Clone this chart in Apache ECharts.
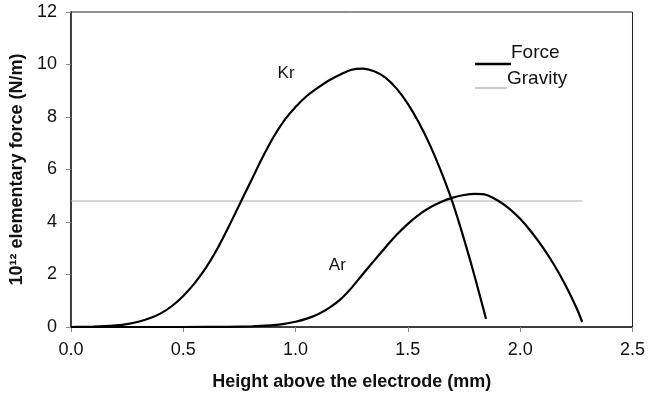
<!DOCTYPE html>
<html>
<head>
<meta charset="utf-8">
<script src="https://cdn.jsdelivr.net/npm/echarts@6/dist/echarts.min.js"></script>
<style>
    html, body { margin: 0; padding: 0; background: #fff; }
    #chart { width: 648px; height: 396px; }
</style>
</head>
<body>
<div id="chart"></div>
<script>
// values: [height (mm), force]
const krForce = [
    [0, 0], [0.05, 0.004], [0.1, 0.013], [0.15, 0.03], [0.2, 0.06], [0.25, 0.11],
    [0.3, 0.2], [0.35, 0.33], [0.4, 0.52], [0.45, 0.8], [0.5, 1.18], [0.55, 1.66],
    [0.6, 2.24], [0.65, 2.95], [0.7, 3.78], [0.75, 4.66], [0.8, 5.53], [0.85, 6.41],
    [0.9, 7.21], [0.95, 7.87], [1.0, 8.38], [1.05, 8.8], [1.1, 9.12], [1.15, 9.4],
    [1.2, 9.62], [1.25, 9.8], [1.3, 9.84], [1.35, 9.74], [1.4, 9.5], [1.45, 9.08],
    [1.5, 8.5], [1.55, 7.77], [1.6, 6.9], [1.65, 5.88], [1.7, 4.72], [1.75, 3.35],
    [1.8, 1.85], [1.848, 0.31]
];
const arForce = [
    [0, 0], [0.5, 0], [0.7, 0.005], [0.8, 0.02], [0.85, 0.04], [0.9, 0.07],
    [0.95, 0.12], [1.0, 0.2], [1.05, 0.32], [1.1, 0.49], [1.15, 0.73], [1.2, 1.05],
    [1.25, 1.5], [1.3, 2.02], [1.35, 2.53], [1.4, 3.03], [1.45, 3.51], [1.5, 3.93],
    [1.55, 4.28], [1.6, 4.56], [1.65, 4.77], [1.7, 4.93], [1.75, 5.03], [1.8, 5.07],
    [1.85, 5.03], [1.9, 4.82], [1.95, 4.52], [2.0, 4.12], [2.05, 3.62], [2.1, 3.04],
    [2.15, 2.38], [2.2, 1.62], [2.25, 0.74], [2.276, 0.19]
];
const gravity = [[0, 4.8], [2.276, 4.8]];
const krLabelAt = [0.958, 9.66];
const arLabelAt = [1.186, 2.35];

const font = 'Liberation Sans, Arial, sans-serif';
const chart = echarts.init(document.getElementById('chart'));

const curveLabel = (text, coord) => ({
    symbol: 'circle',
    symbolSize: 1,
    itemStyle: { color: 'rgba(0,0,0,0)' },
    data: [{
        coord: coord,
        label: { show: true, formatter: text, position: 'inside', color: '#111', fontSize: 17, fontFamily: font }
    }]
});

chart.setOption({
    animation: false,
    backgroundColor: '#fff',
    grid: {
        left: 66, right: 13, top: 12, bottom: 66,
        show: true, borderColor: '#222', borderWidth: 1
    },
    xAxis: {
        type: 'value',
        min: 0, max: 2.5, interval: 0.5,
        name: 'Height above the electrode (mm)',
        nameLocation: 'middle',
        nameGap: 46,
        nameTextStyle: { fontFamily: font, fontSize: 18, fontWeight: 'bold', color: '#111' },
        axisLine: { show: true, lineStyle: { color: '#222', width: 1.5 } },
        axisTick: { show: true, length: 5, lineStyle: { color: '#888' } },
        axisLabel: { fontFamily: font, fontSize: 18, color: '#111', margin: 14, formatter: v => v.toFixed(1) },
        splitLine: { show: false }
    },
    yAxis: {
        type: 'value',
        min: 0, max: 12, interval: 2,
        name: '10¹² elementary force (N/m)',
        nameLocation: 'middle',
        nameGap: 36,
        nameTextStyle: { fontFamily: font, fontSize: 18, fontWeight: 'bold', color: '#111' },
        axisLine: { show: true, lineStyle: { color: '#222', width: 1.5 } },
        axisTick: { show: true, length: 5, lineStyle: { color: '#888' } },
        axisLabel: { fontFamily: font, fontSize: 18, color: '#111', margin: 14 },
        splitLine: { show: false }
    },
    graphic: [
        { type: 'line', shape: { x1: 475, y1: 64, x2: 511, y2: 64 }, style: { stroke: '#000', lineWidth: 2.5 } },
        { type: 'text', left: 511, top: 43, style: { text: 'Force', font: '19px ' + font, fill: '#111' } },
        { type: 'line', shape: { x1: 475, y1: 88, x2: 507, y2: 88 }, style: { stroke: '#999', lineWidth: 1 } },
        { type: 'text', left: 507, top: 69, style: { text: 'Gravity', font: '19px ' + font, fill: '#111' } }
    ],
    series: [
        {
            name: 'Gravity', type: 'line', data: gravity, showSymbol: false,
            lineStyle: { color: '#aaa', width: 1 }
        },
        {
            name: 'Kr', type: 'line', data: krForce, smooth: 0.3, showSymbol: false,
            lineStyle: { color: '#000', width: 2.2 },
            markPoint: curveLabel('Kr', krLabelAt)
        },
        {
            name: 'Ar', type: 'line', data: arForce, smooth: 0.3, showSymbol: false,
            lineStyle: { color: '#000', width: 2.2 },
            markPoint: curveLabel('Ar', arLabelAt)
        }
    ]
});
</script>
</body>
</html>
